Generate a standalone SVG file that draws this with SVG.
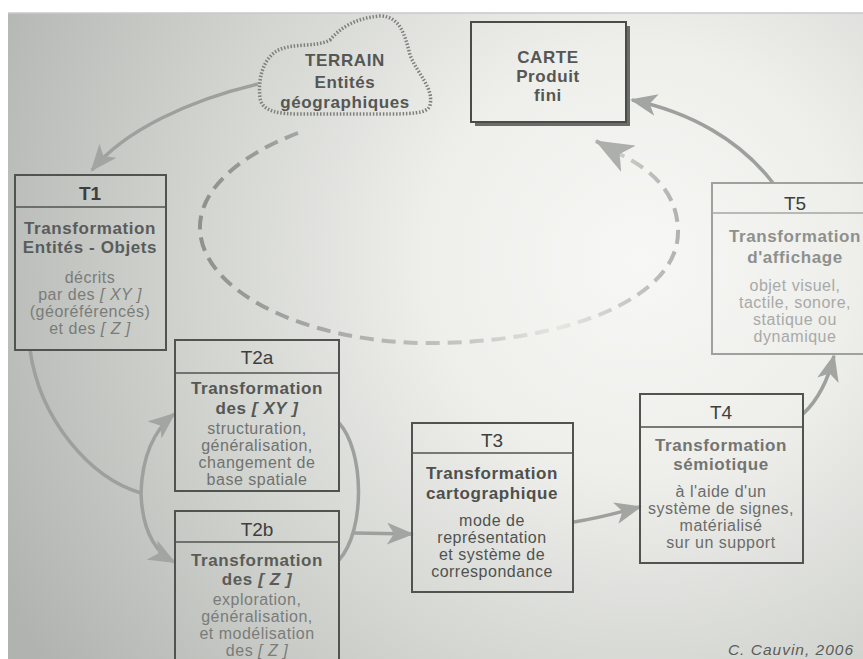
<svg xmlns="http://www.w3.org/2000/svg" width="863" height="659" viewBox="0 0 863 659">
<defs>
<radialGradient id="page" cx="640" cy="260" r="720" gradientUnits="userSpaceOnUse">
<stop offset="0" stop-color="#f7f7f5"/>
<stop offset="0.3" stop-color="#eeeeeb"/>
<stop offset="0.6" stop-color="#d4d6d2"/>
<stop offset="1" stop-color="#b0b3af"/>
</radialGradient>
<linearGradient id="dash" gradientUnits="userSpaceOnUse" x1="200" y1="0" x2="680" y2="0">
<stop offset="0" stop-color="#8e918e"/>
<stop offset="0.55" stop-color="#c4c6c3"/>
<stop offset="0.75" stop-color="#e6e6e2"/>
<stop offset="1" stop-color="#b0b2af"/>
</linearGradient>
<marker id="ah" markerUnits="userSpaceOnUse" markerWidth="28" markerHeight="22" refX="25" refY="11" orient="auto">
<path d="M0,0 L27,11 L0,22 L7,11 Z" fill="#a2a5a2"/>
</marker>
<marker id="ahl" markerUnits="userSpaceOnUse" markerWidth="40" markerHeight="30" refX="37" refY="15" orient="auto">
<path d="M0,0 L38,15 L0,30 L10,15 Z" fill="#adafac"/>
</marker>
</defs>
<style>
text{font-family:"Liberation Sans",Arial,sans-serif;text-anchor:middle}
.hd{font-size:19px;fill:#3d3f3d}
.tb{font-size:17px;font-weight:bold;letter-spacing:0.6px}
.bd{font-size:16px;letter-spacing:0.5px}
.it{font-style:italic}
.box{fill:none;stroke:#505350;stroke-width:2}
.div{stroke:#505350;stroke-width:1.5}
.con{fill:none;stroke:#9da09d;stroke-width:3.5}
</style>
<rect x="0" y="0" width="863" height="659" fill="#ffffff"/>
<rect x="8" y="13" width="855" height="646" fill="url(#page)"/>
<line x1="8" y1="13" x2="863" y2="13" stroke="#c8c8c8" stroke-width="1.5"/>

<g id="connectors">
<path class="con" d="M258,84 C190,100 125,130 92,170" marker-end="url(#ah)"/>
<path class="con" d="M30,350 C40,420 90,478 141,493"/>
<path class="con" d="M141,493 C142,460 152,432 174,414" marker-end="url(#ah)"/>
<path class="con" d="M141,493 C142,525 152,550 174,562" marker-end="url(#ah)"/>
<path class="con" d="M339,423 C364,450 366,530 339,560"/>
<path class="con" d="M354,533 L412,534" marker-end="url(#ah)"/>
<path class="con" d="M574,522 C600,518 620,512 640,507" marker-end="url(#ah)"/>
<path class="con" stroke="#c6c8c5" d="M803,414 C818,400 828,380 834,356" marker-end="url(#ah)"/>
<path class="con" stroke="#b4b6b3" d="M773,183 C740,140 690,112 632,100" marker-end="url(#ah)"/>
<path fill="none" stroke="url(#dash)" stroke-width="4" stroke-dasharray="14 8" d="M298,133 C240,155 198,190 200,230 C203,290 300,340 420,343 C560,345 680,300 678,230 C677,195 655,170 615,152"/>
<path fill="none" stroke="#adafac" stroke-width="4" d="M616,152 L596,141" marker-end="url(#ahl)"/>
</g>

<g id="terrain">
<path d="M330,40 C340,28 355,18 380,16 C400,16 405,35 410,55 C418,75 434,88 430,105 C428,114 410,114 380,114 L300,114 C280,114 262,112 260,98 C258,80 262,62 275,52 C290,42 315,48 330,40 Z" fill="none" stroke="#7d807d" stroke-width="3.5" stroke-dasharray="1.5 1.8"/>
<text x="345" y="66" class="tb" fill="#555755">TERRAIN</text>
<text x="345" y="88" class="tb" fill="#555755">Entités</text>
<text x="345" y="108" class="tb" fill="#555755">géographiques</text>
</g>

<g id="carte">
<line x1="628" y1="26" x2="628" y2="125" stroke="#6a6c6a" stroke-width="4"/>
<line x1="475" y1="124" x2="630" y2="124" stroke="#6a6c6a" stroke-width="4"/>
<rect x="471" y="22" width="155" height="100" fill="none" stroke="#4a4c4a" stroke-width="2"/>
<text x="548" y="63" class="tb" fill="#555755">CARTE</text>
<text x="548" y="82" class="tb" fill="#555755">Produit</text>
<text x="548" y="101" class="tb" fill="#555755">fini</text>
</g>

<g id="t1">
<rect class="box" x="15" y="175" width="151" height="175"/>
<line class="div" x1="15" y1="207" x2="166" y2="207"/>
<text x="90" y="200" class="hd" font-weight="bold">T1</text>
<text x="90" y="234" class="tb" fill="#5a5c5a">Transformation</text>
<text x="90" y="253" class="tb" fill="#5a5c5a">Entités - Objets</text>
<text x="90" y="283" class="bd" fill="#7a7c7a">décrits</text>
<text x="90" y="300" class="bd" fill="#7a7c7a">par des <tspan class="it">[ XY ]</tspan></text>
<text x="90" y="317" class="bd" fill="#7a7c7a">(géoréférencés)</text>
<text x="90" y="334" class="bd" fill="#7a7c7a">et des <tspan class="it">[ Z ]</tspan></text>
</g>

<g id="t2a">
<rect class="box" x="175" y="340" width="164" height="151"/>
<line class="div" x1="175" y1="373" x2="339" y2="373"/>
<text x="257" y="364" class="hd">T2a</text>
<text x="257" y="394" class="tb" fill="#555755">Transformation</text>
<text x="257" y="414" class="tb" fill="#555755">des <tspan class="it">[ XY ]</tspan></text>
<text x="257" y="434" class="bd" fill="#707270">structuration,</text>
<text x="257" y="451" class="bd" fill="#707270">généralisation,</text>
<text x="257" y="468" class="bd" fill="#707270">changement de</text>
<text x="257" y="485" class="bd" fill="#707270">base spatiale</text>
</g>

<g id="t2b">
<rect class="box" x="175" y="511" width="164" height="160"/>
<line class="div" x1="175" y1="542" x2="339" y2="542"/>
<text x="257" y="536" class="hd">T2b</text>
<text x="257" y="566" class="tb" fill="#5a5c5a">Transformation</text>
<text x="257" y="585" class="tb" fill="#5a5c5a">des <tspan class="it">[ Z ]</tspan></text>
<text x="257" y="605" class="bd" fill="#7a7c7a">exploration,</text>
<text x="257" y="622" class="bd" fill="#7a7c7a">généralisation,</text>
<text x="257" y="639" class="bd" fill="#7a7c7a">et modélisation</text>
<text x="257" y="656" class="bd" fill="#7a7c7a">des <tspan class="it">[ Z ]</tspan></text>
</g>

<g id="t3">
<rect class="box" x="412" y="423" width="161" height="169"/>
<line class="div" x1="412" y1="453" x2="573" y2="453"/>
<text x="492" y="447" class="hd" fill="#4a4c4a">T3</text>
<text x="492" y="479" class="tb" fill="#4e504e">Transformation</text>
<text x="492" y="499" class="tb" fill="#4e504e">cartographique</text>
<text x="492" y="526" class="bd" fill="#505250">mode de</text>
<text x="492" y="543" class="bd" fill="#505250">représentation</text>
<text x="492" y="560" class="bd" fill="#505250">et système de</text>
<text x="492" y="577" class="bd" fill="#505250">correspondance</text>
</g>

<g id="t4">
<rect class="box" x="640" y="394" width="163" height="169"/>
<line class="div" x1="640" y1="427" x2="803" y2="427"/>
<text x="721" y="419" class="hd" fill="#6a6c6a">T4</text>
<text x="721" y="451" class="tb" fill="#737573">Transformation</text>
<text x="721" y="470" class="tb" fill="#737573">sémiotique</text>
<text x="721" y="497" class="bd" fill="#6a6c6a">à l'aide d'un</text>
<text x="721" y="514" class="bd" fill="#6a6c6a">système de signes,</text>
<text x="721" y="531" class="bd" fill="#6a6c6a">matérialisé</text>
<text x="721" y="548" class="bd" fill="#6a6c6a">sur un support</text>
</g>

<g id="t5">
<rect x="712" y="183" width="166" height="171" fill="none" stroke="#9fa19f" stroke-width="2"/>
<line x1="712" y1="213" x2="878" y2="213" stroke="#a5a7a5" stroke-width="1.5"/>
<text x="795" y="210" class="hd" fill="#8a8c8a">T5</text>
<text x="795" y="242" class="tb" fill="#8e908e">Transformation</text>
<text x="795" y="263" class="tb" fill="#8e908e">d'affichage</text>
<text x="795" y="291" class="bd" fill="#a8aaa8">objet visuel,</text>
<text x="795" y="308" class="bd" fill="#a8aaa8">tactile, sonore,</text>
<text x="795" y="325" class="bd" fill="#a8aaa8">statique ou</text>
<text x="795" y="342" class="bd" fill="#a8aaa8">dynamique</text>
</g>

<text x="791" y="655" class="it" font-size="15.5" letter-spacing="1" fill="#5a5c5a">C. Cauvin, 2006</text>
</svg>
